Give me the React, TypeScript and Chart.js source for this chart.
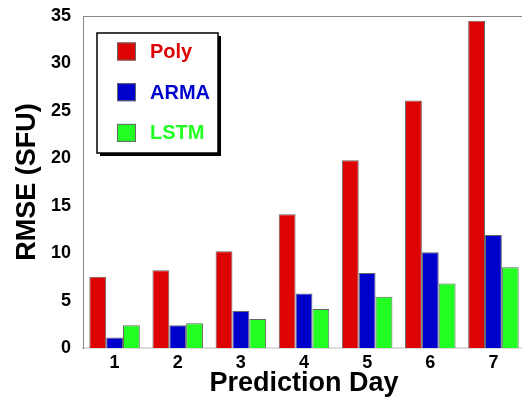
import React, { useEffect, useRef } from "react";
import { Chart, registerables } from "chart.js";

Chart.register(...registerables);

const categories = ["1", "2", "3", "4", "5", "6", "7"];
const polyValues = [7.5, 8.2, 10.2, 14.1, 19.8, 26.1, 34.5];
const armaValues = [1.1, 2.4, 3.9, 5.75, 7.9, 10.1, 11.9];
const lstmValues = [2.4, 2.6, 3.05, 4.1, 5.4, 6.8, 8.5];
const seriesNames = ["Poly", "ARMA", "LSTM"];
const seriesColors = ["#DD0303", "#0000CC", "#22FF22"];
const yTicks = [0, 5, 10, 15, 20, 25, 30, 35];

const FONT = "'Liberation Sans', Arial, sans-serif";

const framePlugin = {
  id: "frameAndLegend",
  afterDraw(chart: any) {
    const { ctx, chartArea } = chart;
    ctx.save();
    // top frame line
    ctx.strokeStyle = "#888888";
    ctx.lineWidth = 1;
    ctx.beginPath();
    ctx.moveTo(chartArea.left, chartArea.top + 0.5);
    ctx.lineTo(chartArea.right + 20, chartArea.top + 0.5);
    ctx.stroke();

    // legend box
    const bx = chartArea.left + 14;
    const by = chartArea.top + 17;
    const bw = 121;
    const bh = 120;
    ctx.fillStyle = "#000";
    ctx.fillRect(bx + 3, by + 3, bw, bh);
    ctx.fillStyle = "#fff";
    ctx.fillRect(bx, by, bw, bh);
    ctx.strokeStyle = "#000";
    ctx.lineWidth = 1.5;
    ctx.strokeRect(bx, by, bw, bh);

    const ds = chart.data.datasets;
    ds.forEach((d: any, i: number) => {
      const cy = by + 18.5 + i * 40.7;
      ctx.fillStyle = d.backgroundColor;
      ctx.fillRect(bx + 20, cy - 9, 19, 18);
      ctx.strokeStyle = "#666";
      ctx.lineWidth = 1;
      ctx.strokeRect(bx + 20.5, cy - 8.5, 18, 17);
      ctx.fillStyle = d.backgroundColor;
      ctx.font = `bold 20px ${FONT}`;
      ctx.textBaseline = "middle";
      ctx.textAlign = "left";
      ctx.fillText(d.label, bx + 53, cy + 1);
    });
    ctx.restore();
  },
};

export default function App() {
  const ref = useRef<HTMLCanvasElement>(null);
  useEffect(() => {
    if (!ref.current) return;
    const datasets = [polyValues, armaValues, lstmValues].map((vals, i) => ({
      label: seriesNames[i],
      data: vals,
      backgroundColor: seriesColors[i],
      borderColor: "#666666",
      borderWidth: 1,
      categoryPercentage: 0.8,
      barPercentage: 1.0,
    }));
    const chart = new Chart(ref.current, {
      type: "bar",
      data: { labels: categories, datasets },
      options: {
        animation: false,
        responsive: false,
        maintainAspectRatio: false,
        layout: { padding: { left: 14, top: 16, right: 5, bottom: 0 } },
        plugins: { legend: { display: false }, tooltip: { enabled: false } },
        scales: {
          x: {
            grid: { display: false, drawTicks: false },
            border: { display: true, color: "#dddddd", width: 2 },
            ticks: {
              color: "#000",
              font: { family: FONT, size: 18, weight: "bold" },
              padding: 4,
            },
            title: {
              display: true,
              text: "Prediction Day",
              color: "#000",
              font: { family: FONT, size: 27, weight: "bold", lineHeight: 1 },
              padding: 0,
            },
            afterFit: (s: any) => {
              s.height = 49;
              s.paddingLeft = 0;
              s.paddingRight = 0;
            },
          },
          y: {
            min: 0,
            max: 35,
            afterBuildTicks: (s: any) => {
              s.ticks = yTicks.map((v) => ({ value: v }));
            },
            grid: { display: false, drawTicks: false },
            border: { display: true, color: "#888888", width: 1 },
            ticks: {
              color: "#000",
              font: { family: FONT, size: 18, weight: "bold" },
              padding: 12,
            },
            title: {
              display: true,
              text: "RMSE (SFU)",
              color: "#000",
              font: { family: FONT, size: 27, weight: "bold", lineHeight: 1 },
              padding: 0,
            },
            afterFit: (s: any) => {
              s.width = 69;
              s.paddingTop = 0;
              s.paddingBottom = 0;
            },
          },
        },
      },
      plugins: [framePlugin],
    });
    return () => chart.destroy();
  }, []);
  return (
    <div style={{ position: "fixed", left: 0, top: 0, width: 530, height: 397, background: "#fff" }}>
      <canvas ref={ref} width={530} height={397} style={{ display: "block" }} />
    </div>
  );
}
